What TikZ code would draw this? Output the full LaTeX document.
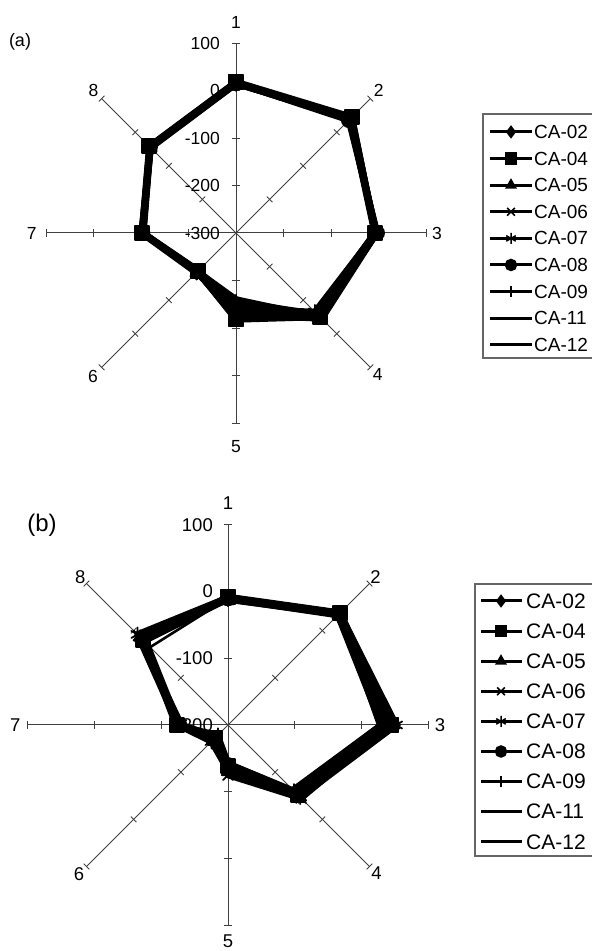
\documentclass[tikz,border=0pt]{standalone}
\usepackage{fontspec}
\setmainfont{Liberation Sans}
\usetikzlibrary{plotmarks}

\tikzset{
  axisline/.style={black!75, line width=1pt},
  tickmark/.style={black!75, line width=0.9pt},
  series/.style={black, line width=6.5pt, line join=round, line cap=round,
    mark size=7pt, mark options={solid, line width=1.8pt}},
  legline/.style={black, line width=3pt, mark size=5.5pt,
    mark options={solid, line width=1.5pt}, mark indices={2}},
  legbox/.style={black!60, line width=1.1pt},
  numlabel/.style={inner sep=0pt},
}

% one closed ring of a radar chart, values on axes 1..8
\newcommand{\radarring}[9]{%
  \draw[series,#1] plot coordinates {(90:#2) (45:#3) (0:#4) (-45:#5)
    (-90:#6) (-135:#7) (180:#8) (135:#9) (90:#2)};}

\begin{document}
\begin{tikzpicture}[x=1pt, y=1pt]
\useasboundingbox (0,0) rectangle (592,951);

% ---------- chart (a) ----------
\node[font=\fontsize{18}{21}\selectfont] (tag-a) at (20,909) {(a)};
\begin{scope}[shift={(236,718)}, x=47.5pt, y=47.5pt, font=\fontsize{17.5}{20}\selectfont]
  % axes
  \foreach \k/\rr in {1/4.44, 2/4.25, 3/4.23, 4/4.22, 5/4.5, 6/4.26, 7/4.3, 8/4.24} {
    \pgfmathsetmacro{\ang}{90-45*(\k-1)}
    \draw[axisline] (0,0) -- (\ang:4);
    \foreach \t in {1,...,4}
      \draw[tickmark, rotate=\ang] (\t,-0.085) -- (\t,0.085);
    \node[numlabel] (a-ax\k) at (\ang:\rr) {\k};
  }
  % scale
  \foreach \v [count=\j from 0] in {-300,-200,-100,0,100}
    \node[numlabel, anchor=east, xshift=-16pt] (a-v\j) at (0,\j) {\v};
  % data
  \radarring{mark=diamond*}{3.16}{3.42}{2.95}{2.45}{1.80}{1.15}{1.97}{2.56}
  \radarring{mark=square*}{3.18}{3.45}{2.93}{2.50}{1.82}{1.14}{1.98}{2.58}
  \radarring{mark=triangle*}{3.15}{3.40}{2.92}{2.40}{1.75}{1.16}{1.95}{2.55}
  \radarring{mark=x}{3.17}{3.38}{2.96}{2.55}{1.70}{1.12}{1.96}{2.57}
  \radarring{mark=asterisk}{3.14}{3.44}{2.94}{2.35}{1.60}{1.18}{1.99}{2.54}
  \radarring{mark=*}{3.16}{3.36}{2.97}{2.48}{1.50}{1.13}{1.97}{2.56}
  \radarring{mark=|}{3.15}{3.41}{2.93}{2.42}{1.45}{1.17}{1.96}{2.55}
  \radarring{mark=none}{3.17}{3.39}{2.95}{2.52}{1.40}{1.15}{1.98}{2.57}
  \radarring{mark=none}{3.16}{3.43}{2.94}{2.38}{1.65}{1.14}{1.97}{2.56}
\end{scope}

% legend (a)
\draw[legbox] (596,837) -- (483,837) -- (483,593) -- (596,593);
\foreach \lab/\mk [count=\i from 0] in {CA-02/diamond*, CA-04/square*, CA-05/triangle*,
    CA-06/x, CA-07/asterisk, CA-08/*, CA-09/|, CA-11/none, CA-12/none} {
  \pgfmathsetmacro{\yy}{819-26.6*\i}
  \draw[legline, mark=\mk] plot coordinates {(490,\yy) (511,\yy) (532,\yy)};
  \node[anchor=west, inner sep=0pt, font=\fontsize{19}{22}\selectfont] (a-leg\i) at (534,\yy) {\lab};
}

% ---------- chart (b) ----------
\node[font=\fontsize{24}{28}\selectfont] (tag-b) at (42,426) {(b)};
\begin{scope}[shift={(228,226)}, x=66.7pt, y=66.7pt, font=\fontsize{18.5}{21}\selectfont]
  % axes
  \foreach \k/\rr in {1/3.33, 2/3.13, 3/3.18, 4/3.15, 5/3.24, 6/3.16, 7/3.19, 8/3.13} {
    \pgfmathsetmacro{\ang}{90-45*(\k-1)}
    \draw[axisline] (0,0) -- (\ang:3);
    \foreach \t in {1,...,3}
      \draw[tickmark, rotate=\ang] (\t,-0.06) -- (\t,0.06);
    \node[numlabel] (b-ax\k) at (\ang:\rr) {\k};
  }
  % scale
  \foreach \v [count=\j from 0] in {-200,-100,0,100}
    \node[numlabel, anchor=east, xshift=-15pt] (b-v\j) at (0,\j) {\v};
  % data
  \radarring{mark=diamond*}{1.90}{2.36}{2.50}{1.50}{0.65}{0.30}{0.74}{1.84}
  \radarring{mark=square*}{1.92}{2.38}{2.45}{1.48}{0.62}{0.28}{0.76}{1.80}
  \radarring{mark=triangle*}{1.90}{2.34}{2.48}{1.52}{0.70}{0.32}{0.72}{1.86}
  \radarring{mark=x}{1.88}{2.35}{2.40}{1.55}{0.75}{0.25}{0.70}{1.90}
  \radarring{mark=asterisk}{1.91}{2.37}{2.52}{1.53}{0.68}{0.35}{0.75}{1.92}
  \radarring{mark=*}{1.90}{2.36}{2.46}{1.45}{0.60}{0.30}{0.73}{1.82}
  \radarring{mark=|}{1.89}{2.33}{2.30}{1.40}{0.58}{0.22}{0.78}{1.78}
  \radarring{mark=none, line width=2.6pt}{1.90}{2.35}{2.25}{1.35}{0.55}{0.20}{0.70}{1.65}
  \radarring{mark=none}{1.91}{2.37}{2.44}{1.50}{0.66}{0.33}{0.74}{1.85}
\end{scope}

% legend (b)
\draw[legbox] (596,367) -- (475,367) -- (475,95) -- (596,95);
\foreach \lab/\mk [count=\i from 0] in {CA-02/diamond*, CA-04/square*, CA-05/triangle*,
    CA-06/x, CA-07/asterisk, CA-08/*, CA-09/|, CA-11/none, CA-12/none} {
  \pgfmathsetmacro{\yy}{350-30.1*\i}
  \draw[legline, mark=\mk] plot coordinates {(481,\yy) (501,\yy) (522,\yy)};
  \node[anchor=west, inner sep=0pt, font=\fontsize{21}{24}\selectfont] (b-leg\i) at (526,\yy) {\lab};
}
\end{tikzpicture}
\end{document}
